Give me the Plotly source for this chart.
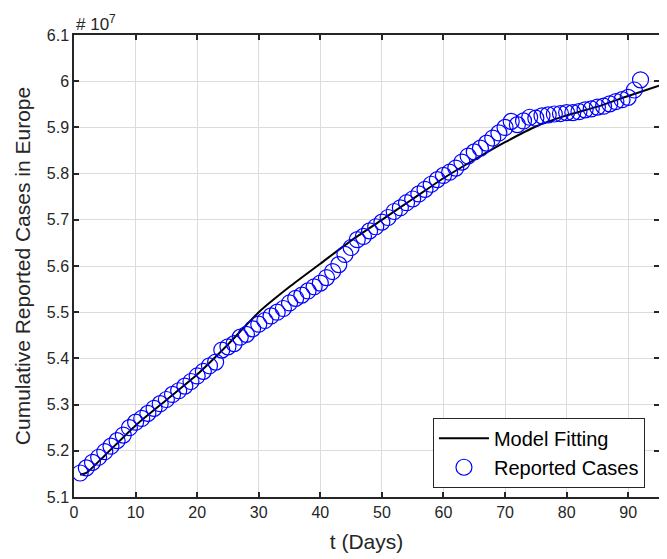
import plotly.graph_objects as go

# Reported cumulative cases (units of 10^7)
DAYS = list(range(1, 93))
CASES_E7 = [
    5.152, 5.163, 5.175, 5.186, 5.198, 5.210, 5.222, 5.234, 5.250, 5.262,
    5.270, 5.281, 5.292, 5.302, 5.311, 5.322, 5.330, 5.340, 5.350, 5.362,
    5.372, 5.384, 5.392, 5.418, 5.425, 5.432, 5.446, 5.452, 5.464, 5.474,
    5.482, 5.492, 5.500, 5.508, 5.520, 5.530, 5.537, 5.546, 5.555, 5.563,
    5.575, 5.588, 5.603, 5.625, 5.640, 5.657, 5.664, 5.676, 5.685, 5.695,
    5.705, 5.718, 5.726, 5.737, 5.745, 5.756, 5.766, 5.777, 5.787, 5.796,
    5.803, 5.812, 5.825, 5.838, 5.847, 5.855, 5.866, 5.877, 5.888, 5.900,
    5.913, 5.906, 5.914, 5.922, 5.920, 5.925, 5.927, 5.929, 5.930, 5.932,
    5.932, 5.934, 5.938, 5.940, 5.944, 5.946, 5.951, 5.956, 5.960, 5.965,
    5.981, 6.003,
]

# Model fit (units of 10^7)
MODEL_DAYS = [1, 2, 5, 10, 15, 20, 25, 30, 35, 40, 45, 50, 55, 60, 65, 70, 75, 80, 85, 90, 95]
MODEL_E7 = [5.148, 5.152, 5.19, 5.255, 5.31, 5.365, 5.43, 5.50, 5.555, 5.605, 5.655,
            5.700, 5.745, 5.79, 5.83, 5.868, 5.902, 5.926, 5.945, 5.968, 5.99]

X_TICKS = [0, 10, 20, 30, 40, 50, 60, 70, 80, 90]
Y_TICKS = [5.1, 5.2, 5.3, 5.4, 5.5, 5.6, 5.7, 5.8, 5.9, 6.0, 6.1]
Y_TICK_TEXT = ["5.1", "5.2", "5.3", "5.4", "5.5", "5.6", "5.7", "5.8", "5.9", "6", "6.1"]

FONT = "Liberation Sans, Arial, sans-serif"
AX = "#262626"

fig = go.Figure()
fig.add_trace(go.Scatter(
    x=MODEL_DAYS, y=MODEL_E7, mode="lines", name="Model Fitting",
    line=dict(color="black", width=2, shape="spline", smoothing=0.6),
))
fig.add_trace(go.Scatter(
    x=DAYS, y=CASES_E7, mode="markers", name="Reported Cases",
    marker=dict(symbol="circle-open", size=16, color="#0000ff", line=dict(width=1.2, color="#0000ff")),
))

axis_common = dict(
    showline=True, linecolor=AX, linewidth=1.5, mirror="ticks",
    ticks="inside", ticklen=5, tickwidth=1.5, tickcolor=AX,
    showgrid=True, gridcolor="#dcdcdc", gridwidth=1, zeroline=False,
    tickfont=dict(family=FONT, size=16, color=AX), automargin=False,
)

# note: the page body adds an 8px offset, margins compensate for it
fig.update_layout(
    width=667, height=559,
    margin=dict(l=66, r=16, t=27, b=70),
    paper_bgcolor="white", plot_bgcolor="white",
    font=dict(family=FONT, color=AX),
    xaxis=dict(range=[0, 95], tickvals=X_TICKS,
               title=dict(text="t (Days)", font=dict(family=FONT, size=21, color=AX), standoff=14),
               **axis_common),
    yaxis=dict(range=[5.1, 6.1], tickvals=Y_TICKS, ticktext=Y_TICK_TEXT,
               title=dict(text="Cumulative Reported Cases in Europe", font=dict(family=FONT, size=21, color=AX), standoff=10),
               **axis_common),
    legend=dict(x=0.976, y=0.02, xanchor="right", yanchor="bottom",
                bgcolor="white", bordercolor=AX, borderwidth=1,
                font=dict(family=FONT, size=20, color="black"),
                tracegroupgap=0, itemwidth=50),
    showlegend=True,
)

fig.add_annotation(
    text="# 10<sup>7</sup>", xref="paper", yref="paper", x=0, y=1.0,
    xanchor="left", yanchor="bottom", showarrow=False, yshift=-1,
    font=dict(family=FONT, size=17, color=AX),
)

fig.write_html("out.html")
